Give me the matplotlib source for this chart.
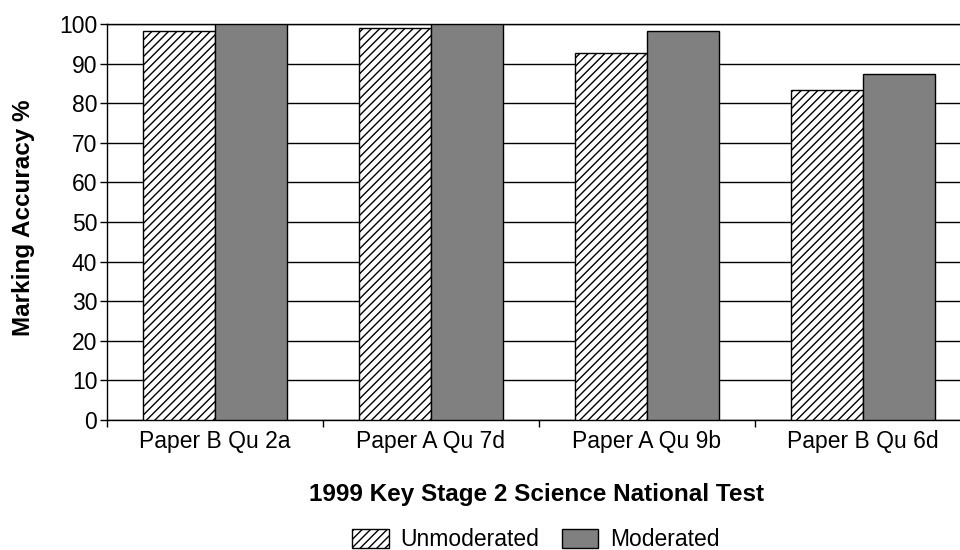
import matplotlib
matplotlib.use("Agg")
import matplotlib.pyplot as plt
import numpy as np

categories = ["Paper B Qu 2a", "Paper A Qu 7d", "Paper A Qu 9b", "Paper B Qu 6d"]
unmoderated = [98.2, 99.0, 92.7, 83.3]
moderated = [100.0, 100.0, 98.2, 87.5]
y_ticks = [0, 10, 20, 30, 40, 50, 60, 70, 80, 90, 100]

plt.rcParams['font.family'] = ['Liberation Sans', 'DejaVu Sans']
plt.rcParams['hatch.linewidth'] = 1.0

fig = plt.figure(figsize=(9.6, 5.5), dpi=100)
ax = fig.add_axes([107 / 960, 130 / 550, 864 / 960, 396 / 550])

x = np.arange(len(categories))
w = 0.333

ax.bar(x - w / 2, unmoderated, w, color='white', edgecolor='black',
       hatch='////', linewidth=1.0, label='Unmoderated', zorder=3)
ax.bar(x + w / 2, moderated, w, color='#808080', edgecolor='black',
       linewidth=1.0, label='Moderated', zorder=3)

ax.set_xlim(-0.5, len(categories) - 0.5)
ax.set_ylim(0, 100)
ax.set_yticks(y_ticks)
ax.yaxis.grid(True, color='black', linewidth=1.0, zorder=0)
ax.set_axisbelow(True)

ax.set_xticks(x)
ax.set_xticklabels(categories)
ax.set_xticks(np.arange(-0.5, len(categories), 1.0), minor=True)
ax.tick_params(axis='x', which='major', length=0, pad=7, labelsize=16.5)
ax.tick_params(axis='x', which='minor', length=5, width=1, direction='out')
ax.tick_params(axis='y', length=5, width=1, direction='out', pad=2, labelsize=16.5)

for s in ['left', 'bottom', 'top']:
    ax.spines[s].set_linewidth(1.0)
    ax.spines[s].set_color('black')
ax.spines['right'].set_visible(False)

ax.set_ylabel('Marking Accuracy %', fontsize=17.5, fontweight='bold')
ax.yaxis.set_label_coords(-0.083, 0.51)
ax.set_xlabel('1999 Key Stage 2 Science National Test', fontsize=17.5,
              fontweight='bold')
ax.xaxis.set_label_coords(0.497, -0.16)

fig.legend(loc='lower center', bbox_to_anchor=(0.558, -0.04), ncol=2, frameon=False,
           fontsize=16.5, handlelength=1.6, handleheight=0.9, handletextpad=0.5,
           columnspacing=1.0)

fig.savefig('out.png', dpi=100)
